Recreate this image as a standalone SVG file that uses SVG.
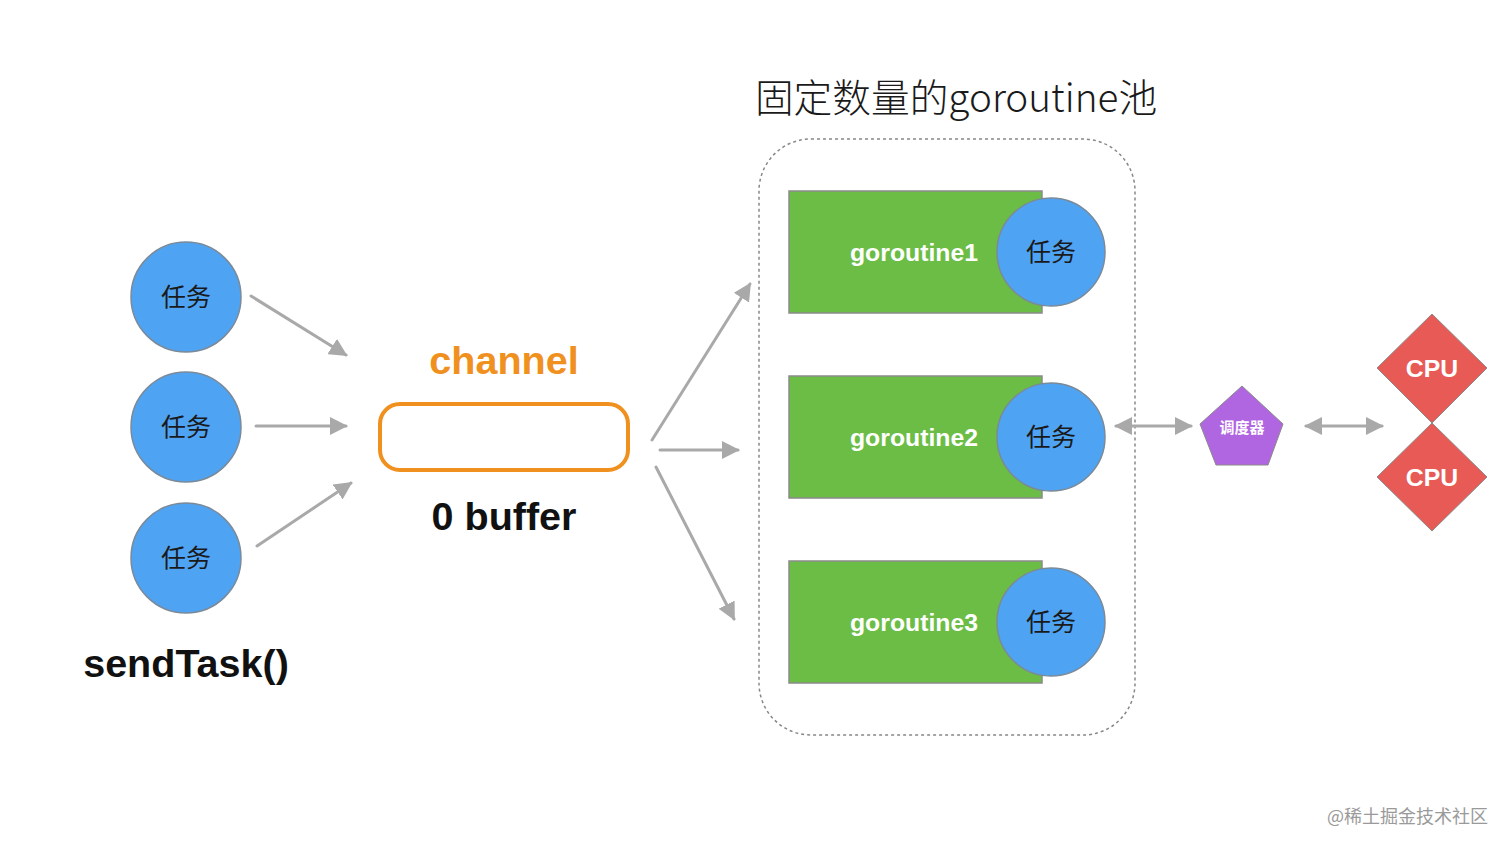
<svg xmlns="http://www.w3.org/2000/svg" width="1512" height="851" viewBox="0 0 1512 851">
<style>
.task{fill:#4fa3f3;stroke:#7a8a99;stroke-width:1.5}
.tt{font-family:"Noto Sans CJK SC",sans-serif;font-size:25px;fill:#1a1a1a;text-anchor:middle}
.g{fill:#6cbd45;stroke:#8a8a8a;stroke-width:1.5}
.gt{font-family:"Liberation Sans",Arial,sans-serif;font-weight:bold;font-size:24.8px;fill:#fff;text-anchor:middle}
.big{font-family:"Liberation Sans",Arial,sans-serif;font-weight:bold;font-size:39.5px;text-anchor:middle}
.ln{stroke:#a9a9a9;stroke-width:3;fill:none;stroke-linecap:round}
.cpu{fill:#e85a55;stroke:#8a8a8a;stroke-width:1}
</style>
<defs>
<marker id="ah" viewBox="0 0 10 10" refX="9" refY="5" markerWidth="6" markerHeight="6" orient="auto-start-reverse" markerUnits="strokeWidth"><path d="M0,0 L10,5 L0,10 z" fill="#a9a9a9"/></marker>
</defs>
<rect width="1512" height="851" fill="#fff"/>
<text x="956" y="112" font-family="Noto Sans CJK SC,sans-serif" font-weight="300" font-size="38.7" fill="#1a1a1a" text-anchor="middle">固定数量的goroutine池</text>
<g id="pool"><rect x="759" y="139" width="376" height="596" rx="52" fill="none" stroke="#888" stroke-width="1.5" stroke-dasharray="3,3"/></g>
<g id="task1"><circle cx="186" cy="297" r="55" class="task"/><text x="186" y="306" class="tt">任务</text></g>
<g id="task2"><circle cx="186" cy="427" r="55" class="task"/><text x="186" y="436" class="tt">任务</text></g>
<g id="task3"><circle cx="186" cy="558" r="55" class="task"/><text x="186" y="567" class="tt">任务</text></g>
<g id="sendTask"><text x="186" y="677" class="big" fill="#111">sendTask()</text></g>
<g id="channel">
<text x="504" y="374" class="big" fill="#f0901e">channel</text>
<rect x="380" y="404" width="248" height="66" rx="20" fill="#fff" stroke="#f0901e" stroke-width="4"/>
<text x="504" y="530" class="big" fill="#111">0 buffer</text>
</g>
<g id="g1"><rect x="789" y="191" width="253" height="122" class="g"/><text x="914" y="261" class="gt">goroutine1</text><circle cx="1051" cy="252" r="54" class="task"/><text x="1051" y="261" class="tt">任务</text></g>
<g id="g2"><rect x="789" y="376" width="253" height="122" class="g"/><text x="914" y="446" class="gt">goroutine2</text><circle cx="1051" cy="437" r="54" class="task"/><text x="1051" y="446" class="tt">任务</text></g>
<g id="g3"><rect x="789" y="561" width="253" height="122" class="g"/><text x="914" y="631" class="gt">goroutine3</text><circle cx="1051" cy="622" r="54" class="task"/><text x="1051" y="631" class="tt">任务</text></g>
<g id="scheduler"><polygon points="1242,386 1283,424 1268,465 1216,465 1200,424" fill="#b066e0" stroke="#8a8a8a" stroke-width="1"/><text x="1242" y="433" font-family="Noto Sans CJK SC,sans-serif" font-weight="bold" font-size="15" fill="#fff" text-anchor="middle">调度器</text></g>
<g id="cpu1"><polygon points="1432,314 1487,368 1432,423 1377,368" class="cpu"/><text x="1432" y="377" class="gt">CPU</text></g>
<g id="cpu2"><polygon points="1432,423 1487,477 1432,531 1377,477" class="cpu"/><text x="1432" y="486" class="gt">CPU</text></g>
<g id="connectors">
<line x1="251" y1="296" x2="346" y2="355" class="ln" marker-end="url(#ah)"/>
<line x1="256" y1="426" x2="346" y2="426" class="ln" marker-end="url(#ah)"/>
<line x1="257" y1="546" x2="351" y2="483" class="ln" marker-end="url(#ah)"/>
<line x1="652" y1="440" x2="750" y2="284" class="ln" marker-end="url(#ah)"/>
<line x1="660" y1="450" x2="738" y2="450" class="ln" marker-end="url(#ah)"/>
<line x1="656" y1="467" x2="734" y2="619" class="ln" marker-end="url(#ah)"/>
<line x1="1116" y1="426" x2="1191" y2="426" class="ln" marker-start="url(#ah)" marker-end="url(#ah)"/>
<line x1="1306" y1="426" x2="1382" y2="426" class="ln" marker-start="url(#ah)" marker-end="url(#ah)"/>
</g>
<text x="1488" y="823" font-family="Noto Sans CJK SC,sans-serif" font-size="18" fill="#9a9a9a" text-anchor="end">@稀土掘金技术社区</text>
</svg>
